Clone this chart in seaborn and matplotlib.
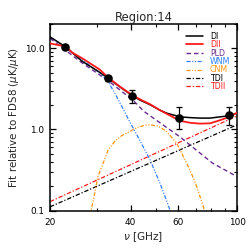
import matplotlib
matplotlib.use("Agg")
import matplotlib.pyplot as plt
import matplotlib.ticker as mticker
from matplotlib.lines import Line2D
import seaborn as sns
import pandas as pd

# ---- data ----
freq_pts = [22.8, 33.0, 40.6, 60.6, 93.4]
val_pts = [10.5, 4.28, 2.61, 1.40, 1.49]
err_lo = [0.40, 0.30, 0.47, 0.38, 0.35]
err_hi = [0.40, 0.30, 0.49, 0.51, 0.42]

di_f = [20, 22.8, 26.4, 30.7, 33.0, 36.5, 40.6, 43.4, 47.3, 51.5, 54.6, 61.2, 66.7, 72.7, 79.3, 86.4, 94.2, 100]
di_v = [13.9, 10.5, 6.92, 5.06, 4.28, 3.35, 2.61, 2.30, 2.02, 1.73, 1.59, 1.43, 1.40, 1.38, 1.38, 1.43, 1.48, 1.59]

dii_f = [20, 22.8, 24.2, 26.4, 30.7, 33.0, 36.5, 40.6, 44.0, 47.3, 51.5, 54.6, 61.2, 66.7, 72.7, 79.3, 86.4, 94.2, 100]
dii_v = [11.5, 10.6, 8.9, 7.54, 5.48, 4.36, 3.38, 2.65, 2.30, 2.05, 1.73, 1.56, 1.28, 1.21, 1.18, 1.19, 1.30, 1.44, 1.61]

pld_f = [20, 26.4, 33.0, 41.0, 44.9, 51.5, 60.9, 81.0, 100]
pld_v = [13.3, 6.6, 3.99, 2.27, 1.67, 1.21, 0.82, 0.384, 0.262]

wnm_f = [20, 22.8, 28.2, 30.75, 32.95, 35.0, 37.5, 39.8, 43.4, 47.3, 51.5, 56.2, 57.2]
wnm_v = [13.6, 10.5, 6.14, 4.96, 3.89, 2.77, 1.80, 1.23, 0.725, 0.422, 0.219, 0.101, 0.085]

cnm_f = [28.1, 28.5, 29.4, 30.2, 31.6, 33.0, 34.9, 37.0, 39.7, 42.7, 46.5, 50.7, 54.3, 59.5, 63.0, 66.7, 70.7, 74.9, 75.9]
cnm_v = [0.081, 0.10, 0.163, 0.262, 0.384, 0.561, 0.71, 0.836, 0.945, 1.07, 1.15, 1.10, 0.96, 0.679, 0.463, 0.317, 0.197, 0.111, 0.09]

tdi_f = [20, 100]
tdi_v = [0.111, 1.14]
tdii_f = [20, 100]
tdii_v = [0.1285, 1.47]

x_major = [20, 40, 60, 100]
x_minor = [30, 50, 70, 80, 90]
y_major = [0.1, 1.0, 10.0]
y_major_labels = ["0.1", "1.0", "10.0"]

# ---- styling ----
sns.set_style("ticks")
plt.rcParams['font.family'] = ['DejaVu Sans']
plt.rcParams['mathtext.fontset'] = 'dejavusans'

RED = "#ff1a1a"
PURPLE = "#6a2a90"
BLUE = "#2f7fff"
ORANGE = "#ff9410"

fig = plt.figure(figsize=(2.49, 2.49), dpi=100)
ax = fig.add_axes([50/249, 38.5/249, 187/249, 186.5/249])

dd = (0, (3.2, 1.3, 0.9, 1.3, 0.9, 1.3))
dashdot = (0, (3.5, 1.5, 1.0, 1.5))
dashed = (0, (3.2, 2.2))

curves = [
    ("TDII", tdii_f, tdii_v, RED, dashdot, 0.9, 2),
    ("TDI", tdi_f, tdi_v, "black", dashdot, 0.9, 2),
    ("CNM", cnm_f, cnm_v, ORANGE, dd, 0.9, 2),
    ("WNM", wnm_f, wnm_v, BLUE, dd, 0.9, 2),
    ("PLD", pld_f, pld_v, PURPLE, dashed, 1.0, 2),
    ("DI", di_f, di_v, "black", "-", 1.1, 3),
    ("DII", dii_f, dii_v, RED, "-", 1.3, 4),
]
handles = {}
for name, f, v, c, ls, lw, z in curves:
    df = pd.DataFrame({"f": f, "v": v})
    sns.lineplot(data=df, x="f", y="v", ax=ax, color=c, lw=lw, zorder=z,
                 estimator=None, sort=True)
    line = ax.lines[-1]
    line.set_linestyle(ls)
    handles[name] = Line2D([], [], color=c, lw=lw, linestyle=ls)

ax.errorbar(freq_pts, val_pts, yerr=[err_lo, err_hi], fmt="none", ecolor="black",
            elinewidth=0.9, capsize=2.0, capthick=0.9, zorder=5)
pts = pd.DataFrame({"f": freq_pts, "v": val_pts})
sns.scatterplot(data=pts, x="f", y="v", ax=ax, color="black", s=38, zorder=6,
                edgecolor="black", linewidth=0)

ax.set_xscale("log")
ax.set_yscale("log")
ax.set_xlim(20, 100)
ax.set_ylim(0.1, 20)

ax.xaxis.set_major_locator(mticker.FixedLocator(x_major))
ax.xaxis.set_minor_locator(mticker.FixedLocator(x_minor))
ax.xaxis.set_major_formatter(mticker.FixedFormatter([str(x) for x in x_major]))
ax.xaxis.set_minor_formatter(mticker.NullFormatter())
ax.yaxis.set_major_locator(mticker.FixedLocator(y_major))
ax.yaxis.set_major_formatter(mticker.FixedFormatter(y_major_labels))
ax.yaxis.set_minor_locator(mticker.LogLocator(base=10, subs=range(2, 10)))
ax.yaxis.set_minor_formatter(mticker.NullFormatter())

ax.tick_params(which="both", direction="in", top=True, right=True, colors="black")
ax.tick_params(which="major", length=4.5, width=0.9, labelsize=6.4, pad=4)
ax.tick_params(which="minor", length=2.2, width=0.8)
ax.tick_params(axis="x", which="major", pad=5.5)
for s in ax.spines.values():
    s.set_linewidth(1.1)
    s.set_color("black")

ax.set_xlabel(r"$\nu$ [GHz]", fontsize=7.6, labelpad=2.5)
ax.set_ylabel(r"Fit relative to FDS8 ($\mu$K/$\mu$K)", fontsize=7.4, labelpad=3)
ax.set_title("Region:14", fontsize=8.3, pad=2.5)

order = ["DI", "DII", "PLD", "WNM", "CNM", "TDI", "TDII"]
tcolors = ["black", RED, PURPLE, BLUE, ORANGE, "black", RED]
leg = ax.legend([handles[n] for n in order], order, loc="upper left",
                bbox_to_anchor=(0.728, 0.958), frameon=False, fontsize=5.7,
                handlelength=2.1, handletextpad=0.9, labelspacing=-0.08,
                borderpad=0, borderaxespad=0)
for t, c in zip(leg.get_texts(), tcolors):
    t.set_color(c)

fig.savefig("out.png", dpi=100)
